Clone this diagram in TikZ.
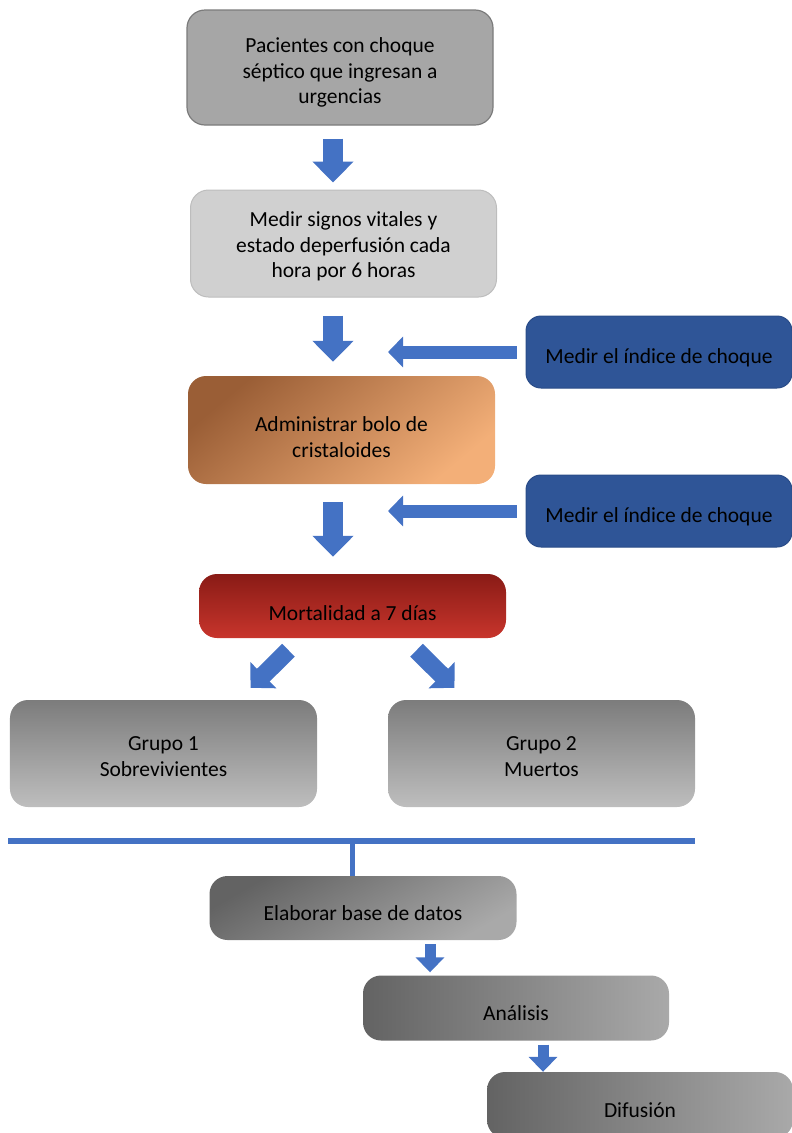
\documentclass[tikz,border=0pt]{standalone}
\usepackage{fontspec}
\setmainfont{Carlito}
\usetikzlibrary{arrows.meta}

\definecolor{arrowblue}{HTML}{4472C4}
\definecolor{indblue}{HTML}{2F5597}
\definecolor{indline}{HTML}{2A4C88}
\definecolor{pacfill}{HTML}{A6A6A6}
\definecolor{pacline}{HTML}{7B7B7B}
\definecolor{sigfill}{HTML}{D0D0D0}
\definecolor{sigline}{HTML}{BDBDBD}
\definecolor{orgdark}{HTML}{9A5E36}
\definecolor{orglight}{HTML}{F3AF78}
\definecolor{redtop}{HTML}{891B16}
\definecolor{redbot}{HTML}{C8352C}
\definecolor{grptop}{HTML}{7C7C7C}
\definecolor{grpbot}{HTML}{BEBEBE}
\definecolor{elabdark}{HTML}{636363}
\definecolor{elablight}{HTML}{A9A9A9}

\begin{document}
\begin{tikzpicture}[x=1bp,y=-1bp]
		\tikzset{
			textdrop/.style={execute at begin node={\rule{0pt}{#1}}},
			box/.style={rounded corners=18bp, minimum width=306bp, inner sep=0pt,
				align=center, text=black, font=\fontsize{21.5bp}{25.5bp}\selectfont,
				textdrop=26bp},
			indbox/.style={box, rounded corners=15bp, minimum width=266bp, minimum height=72bp,
				fill=indblue, draw=indline, line width=1bp},
			blk/.style={draw=arrowblue, line width=20bp, -{Triangle[length=21bp,width=40bp]}},
			blkl/.style={draw=arrowblue, line width=13bp, -{Triangle[length=15bp,width=30bp]}},
			blkd/.style={draw=arrowblue, line width=18bp, -{Triangle[length=18bp,width=36bp]}},
			blks/.style={draw=arrowblue, line width=11bp, -{Triangle[length=15bp,width=28bp]}},
			bar/.style={draw=arrowblue, line width=6bp}
		}
		\useasboundingbox (0,0) rectangle (792,1133);

		% main column
		\node[box, textdrop=76bp, fill=pacfill, draw=pacline, line width=1.2bp, minimum height=115bp] (pac) at (340,67.5)
			{Pacientes con choque\\séptico que ingresan a\\urgencias};
		\node[box, textdrop=72bp, fill=sigfill, draw=sigline, line width=1bp, minimum height=107bp] (sig) at (343.5,243.5)
			{Medir signos vitales y\\estado deperfusión cada\\hora por 6 horas};
		\node[box, textdrop=55bp, top color=orgdark, bottom color=orglight, shading angle=40, minimum width=307bp, minimum height=108bp] (adm) at (341.5,430)
			{Administrar bolo de\\cristaloides};
		\node[box, textdrop=29bp, top color=redtop, bottom color=redbot, minimum width=307bp, minimum height=64bp] (mort) at (352.5,606)
			{Mortalidad a 7 días};

		% side boxes
		\node[indbox] (ind1) at (659,352) {Medir el índice de choque};
		\node[indbox] (ind2) at (659,511) {Medir el índice de choque};

		% groups
		\node[box, textdrop=46bp, top color=grptop, bottom color=grpbot, minimum width=307bp, minimum height=107bp] (g1) at (163.5,753.5)
			{Grupo 1\\Sobrevivientes};
		\node[box, textdrop=46bp, top color=grptop, bottom color=grpbot, minimum width=307bp, minimum height=107bp] (g2) at (541.5,753.5)
			{Grupo 2\\Muertos};

		% final steps
		\node[box, textdrop=0bp, top color=elabdark, bottom color=elablight, shading angle=30, minimum width=307bp, minimum height=64bp] (elab) at (363,908)
			{Elaborar base de datos};
		\node[box, left color=elabdark, right color=elablight, minimum height=65bp] (ana) at (516,1008)
			{Análisis};
		\node[box, textdrop=22bp, left color=elabdark, right color=elablight, minimum height=66bp] (dif) at (640,1105)
			{Difusión};

		\coordinate (tip1) at (388,352);
		\coordinate (tip2) at (388,511);
		\coordinate (bl) at (8,841);
		\coordinate (br) at (695,841);
		\coordinate (bm) at (352,841);

		\draw[blk, shorten <=13bp, shorten >=7bp] ([xshift=-7bp]pac.south) -- ([xshift=-7bp]pac.south |- sig.north);
		\draw[blk, shorten <=18bp, shorten >=14bp] ([xshift=-10.5bp]sig.south) -- ([xshift=-10.5bp]sig.south |- adm.north);
		\draw[blk, shorten <=18bp, shorten >=17bp] ([xshift=-8.5bp]adm.south) -- ([xshift=-8.5bp]adm.south |- mort.north);
		\draw[blkl, shorten <=9bp] (ind1.west) -- (tip1);
		\draw[blkl, shorten <=9bp] (ind2.west) -- (tip2);
		\draw[blkd, shorten <=17bp, shorten >=17bp] ([xshift=-52bp]mort.south) -- ([xshift=75bp]g1.north);
		\draw[blkd, shorten <=17bp, shorten >=17bp] ([xshift=52bp]mort.south) -- ([xshift=-75bp]g2.north);

		\draw[bar] (bl) -- (br);
		\draw[bar, line width=5bp] (bm) -- (bm |- elab.north);
		\draw[blks, shorten <=4bp, shorten >=3bp] ([xshift=67bp]elab.south) -- ([xshift=67bp]elab.south |- ana.north);
		\draw[blks, shorten <=4bp, shorten >=0bp] ([xshift=27bp]ana.south) -- ([xshift=27bp]ana.south |- dif.north);
	\end{tikzpicture}
\end{document}
